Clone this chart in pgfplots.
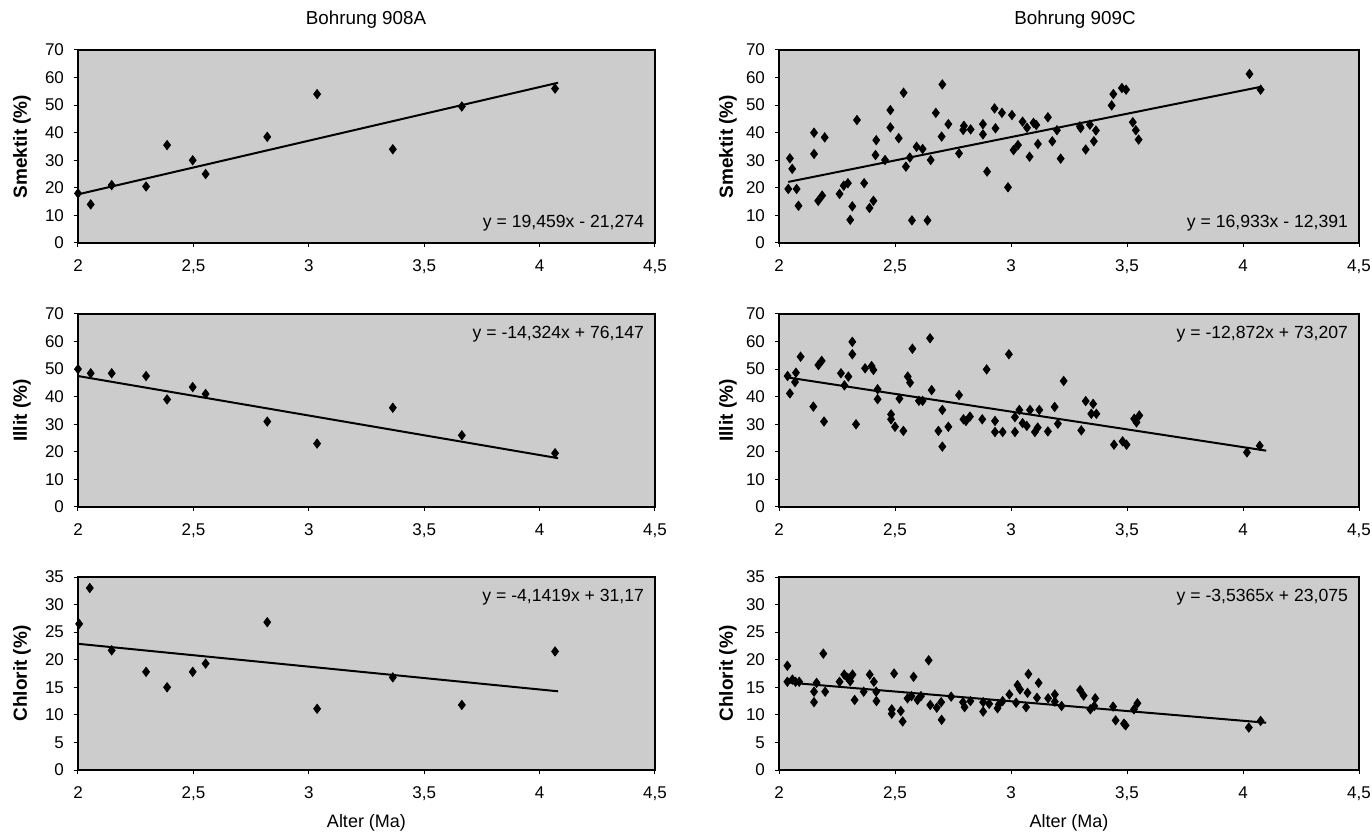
\documentclass[border=0pt]{standalone}
\usepackage{fontspec}
\setmainfont{Liberation Sans}
\usepackage{pgfplots}
\pgfplotsset{compat=1.18}
\tikzset{eq/.style={font=\fontsize{8.8}{10}\selectfont, inner sep=1pt}}
\begin{document}
\begin{tikzpicture}
\path[use as bounding box] (0pt,0pt) rectangle (686pt,415.5pt);
\pgfplotsset{
  panel/.style={
    scale only axis, width=288.5pt, height=96.5pt,
    anchor=south west,
    xmin=2, xmax=4.5, xtick={2,2.5,3,3.5,4,4.5},
    xticklabels={2,{2,5},3,{3,5},4,{4,5}},
    axis background/.style={fill=black!20},
    axis line style={line width=0.9pt},
    tick style={black, line width=0.5pt},
    tick align=outside, major tick length=2pt,
    tick pos=left,
    ticklabel style={font=\fontsize{8.5}{9}\selectfont},
    xticklabel style={yshift=-3pt},
    yticklabel style={xshift=-1.5pt},
    /pgf/number format/assume math mode=true,
    ylabel style={font=\bfseries\fontsize{9.5}{11}\selectfont, at={(axis description cs:-0.097,0.5)}, anchor=center},
    xlabel style={font=\fontsize{9}{11}\selectfont},
    clip=false,
  },
  rpanel/.style={panel, width=290pt, ylabel style={at={(axis description cs:-0.088,0.5)}}},
  sc/.style={only marks, mark=diamond*, mark size=2.3pt, black},
  rl/.style={black, line width=1pt, no marks},
}
% ---------------- Bohrung 908A ----------------
\begin{axis}[panel, at={(39pt,294pt)}, ymin=0, ymax=70, ytick={0,10,...,70}, ylabel={Smektit (\%)}]
\addplot[sc] coordinates {(2.00,18) (2.055,14) (2.146,21) (2.295,20.5) (2.386,35.5) (2.497,30) (2.553,25) (2.82,38.5) (3.036,54) (3.364,34) (3.663,49.5) (4.067,56)};
\addplot[rl] coordinates {(2.0,17.644) (4.08,58.119)};
\node[eq, anchor=south east] at (rel axis cs:0.985,0.05) {y = 19,459x - 21,274};
\end{axis}
\begin{axis}[panel, at={(39pt,162pt)}, ymin=0, ymax=70, ytick={0,10,...,70}, ylabel={Illit (\%)}]
\addplot[sc] coordinates {(2.00,50) (2.055,48.5) (2.146,48.5) (2.295,47.5) (2.386,39) (2.497,43.5) (2.553,41) (2.82,31) (3.036,23) (3.364,36) (3.663,26) (4.067,19.5)};
\addplot[rl] coordinates {(2.0,47.499) (4.08,17.705)};
\node[eq, anchor=north east] at (rel axis cs:0.985,0.95) {y = -14,324x + 76,147};
\end{axis}
\begin{axis}[panel, at={(39pt,30.5pt)}, ymin=0, ymax=35, ytick={0,5,...,35}, ylabel={Chlorit (\%)}, xlabel={Alter (Ma)}]
\addplot[sc] coordinates {(2.005,26.5) (2.051,33) (2.146,21.7) (2.295,17.8) (2.386,15) (2.497,17.8) (2.553,19.3) (2.82,26.8) (3.036,11.1) (3.364,16.8) (3.663,11.8) (4.067,21.5)};
\addplot[rl] coordinates {(2.0,22.886) (4.08,14.271)};
\node[eq, anchor=north east] at (rel axis cs:0.985,0.95) {y = -4,1419x + 31,17};
\end{axis}
% ---------------- Bohrung 909C ----------------
\begin{axis}[rpanel, at={(389.5pt,294pt)}, ymin=0, ymax=70, ytick={0,10,...,70}, ylabel={Smektit (\%)}]
\addplot[sc] coordinates {
(2.04,19.6) (2.047,30.7) (2.057,26.9) (2.076,19.6) (2.084,13.5) (2.151,32.3) (2.151,40) (2.169,15.3) (2.186,17.2) (2.197,38.3)
(2.261,17.8) (2.279,20.8) (2.297,21.7) (2.307,8.4) (2.316,13.3) (2.336,44.6) (2.367,21.7) (2.39,12.7) (2.407,15.3) (2.416,31.9)
(2.419,37.3) (2.48,48.2) (2.48,41.9) (2.457,30.1) (2.516,38) (2.537,54.5) (2.547,27.7) (2.573,8.2) (2.564,31) (2.593,34.9)
(2.619,34.1) (2.64,8.2) (2.654,30.1) (2.676,47.2) (2.701,38.6) (2.704,57.5) (2.73,43.1) (2.776,32.5) (2.797,42.5) (2.794,41)
(2.826,41.2) (2.879,43.1) (2.879,39.4) (2.897,25.9) (2.929,48.8) (2.933,41.6) (2.961,47.2) (2.987,20.2) (3.004,46.4) (3.011,33.7)
(3.03,35.5) (3.05,44) (3.069,41.8) (3.08,31.3) (3.097,43.6) (3.109,42.8) (3.116,35.9) (3.159,45.6) (3.178,36.9) (3.198,40.9)
(3.214,30.6) (3.297,42.3) (3.30,41.7) (3.34,42.9) (3.322,33.9) (3.357,36.9) (3.366,40.8) (3.434,49.9) (3.441,54) (3.478,56.2)
(3.496,55.6) (3.525,43.8) (3.538,40.9) (3.55,37.5) (4.028,61.3) (4.076,55.6)};
\addplot[rl] coordinates {(2.04,22.152) (4.08,56.696)};
\node[eq, anchor=south east] at (rel axis cs:0.985,0.05) {y = 16,933x - 12,391};
\end{axis}
\begin{axis}[rpanel, at={(389.5pt,162pt)}, ymin=0, ymax=70, ytick={0,10,...,70}, ylabel={Illit (\%)}]
\addplot[sc] coordinates {
(2.037,47.5) (2.047,41.2) (2.073,48.7) (2.069,45.3) (2.093,54.5) (2.148,36.4) (2.17,51.5) (2.184,53) (2.194,31) (2.267,48.5)
(2.282,44.1) (2.299,47.3) (2.316,59.9) (2.316,55.4) (2.332,30) (2.371,50.3) (2.399,51.1) (2.407,49.7) (2.425,42.7) (2.425,39.1)
(2.483,33.6) (2.483,31.8) (2.5,29.1) (2.519,39.3) (2.536,27.6) (2.555,47.3) (2.565,45.1) (2.575,57.4) (2.603,38.5) (2.619,38.5)
(2.651,61.2) (2.658,42.4) (2.687,27.6) (2.704,35.2) (2.704,21.9) (2.73,29.1) (2.776,40.6) (2.795,31.8) (2.806,31.2) (2.823,32.8)
(2.876,31.8) (2.895,49.9) (2.931,31.2) (2.931,27.2) (2.964,27.2) (2.991,55.4) (3.017,32.6) (3.017,27.2) (3.036,35.2) (3.05,30.4)
(3.068,29.4) (3.082,35.2) (3.103,27.2) (3.122,35.2) (3.115,28.8) (3.159,27.4) (3.188,36.3) (3.202,30.2) (3.227,45.7) (3.303,27.8)
(3.322,38.4) (3.354,37.4) (3.346,33.8) (3.368,33.8) (3.444,22.6) (3.481,23.8) (3.498,22.6) (3.531,32) (3.541,30.7) (3.553,33.2)
(4.017,19.8) (4.072,22.2)};
\addplot[rl] coordinates {(2.04,46.948) (4.1,20.432)};
\node[eq, anchor=north east] at (rel axis cs:0.985,0.95) {y = -12,872x + 73,207};
\end{axis}
\begin{axis}[rpanel, at={(389.5pt,30.5pt)}, ymin=0, ymax=35, ytick={0,5,...,35}, ylabel={Chlorit (\%)}, xlabel={Alter (Ma)}]
\addplot[sc] coordinates {
(2.036,18.9) (2.036,16) (2.058,16.4) (2.071,16) (2.087,16) (2.151,12.3) (2.151,14.2) (2.162,15.8) (2.191,21.1) (2.199,14.2)
(2.261,16) (2.281,17.3) (2.296,16.7) (2.307,16.1) (2.317,17.3) (2.326,12.7) (2.365,14.2) (2.391,17.3) (2.409,16) (2.419,14.2)
(2.42,12.5) (2.486,10.2) (2.486,11) (2.496,17.5) (2.525,10.7) (2.533,8.8) (2.554,13) (2.571,13.4) (2.58,16.9) (2.597,12.7)
(2.612,13.4) (2.645,19.9) (2.652,11.8) (2.68,11.3) (2.699,12.3) (2.701,9.1) (2.742,13.3) (2.793,12.3) (2.8,11.4) (2.825,12.5)
(2.88,12.3) (2.88,10.6) (2.906,12) (2.942,11.2) (2.948,11.9) (2.964,12.5) (2.993,13.7) (3.022,12.2) (3.028,15.4) (3.039,14.6)
(3.075,17.4) (3.071,14) (3.065,11.4) (3.112,13.1) (3.119,15.8) (3.16,13) (3.189,13.7) (3.189,12.4) (3.218,11.6) (3.298,14.5)
(3.313,13.5) (3.342,11) (3.359,11.6) (3.363,13) (3.44,11.5) (3.451,9) (3.487,8.4) (3.494,8.1) (3.53,11) (3.545,12.1)
(4.025,7.7) (4.076,8.9)};
\addplot[rl] coordinates {(2.03,15.896) (4.1,8.575)};
\node[eq, anchor=north east] at (rel axis cs:0.985,0.95) {y = -3,5365x + 23,075};
\end{axis}
% titles
\node[font=\fontsize{9.4}{11}\selectfont] at (183pt,405.5pt) {Bohrung 908A};
\node[font=\fontsize{9.4}{11}\selectfont] at (537.5pt,405.5pt) {Bohrung 909C};
\end{tikzpicture}
\end{document}
